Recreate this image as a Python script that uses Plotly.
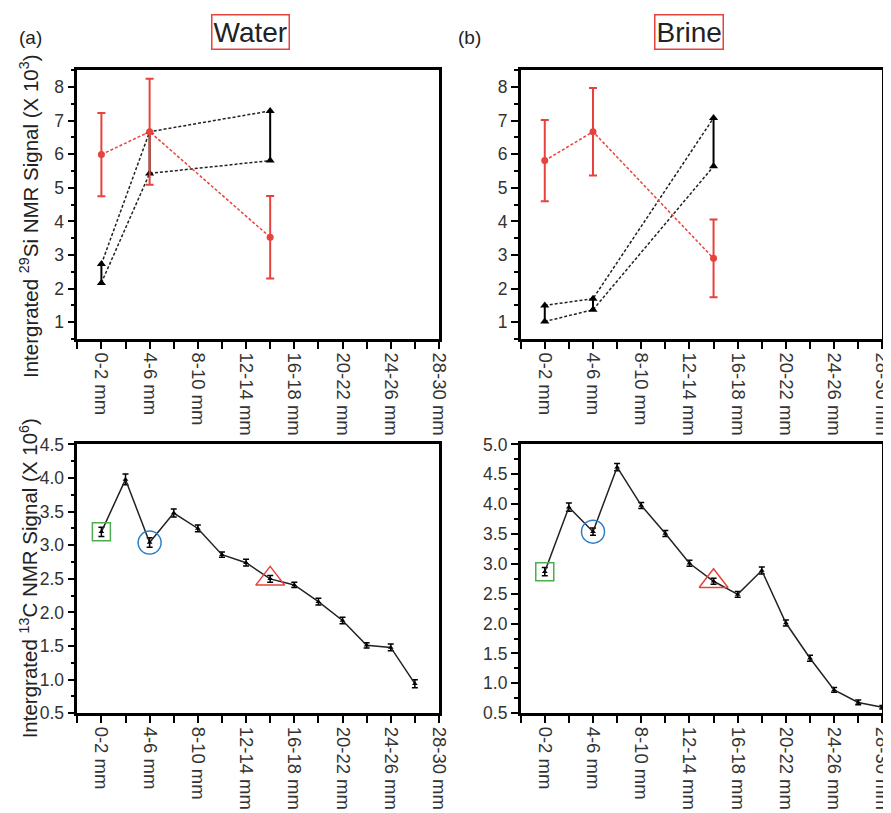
import plotly.graph_objects as go

W, H = 891, 813
# the browser shot maps figure pixels to picture pixels as  pic = S * fig + B
S, B = 0.98, 14.5

depth_labels = ['0-2 mm', '2-4 mm', '4-6 mm', '6-8 mm', '8-10 mm', '10-12 mm', '12-14 mm',
                '14-16 mm', '16-18 mm', '18-20 mm', '20-22 mm', '22-24 mm', '24-26 mm',
                '26-28 mm', '28-30 mm']

# 29Si panels (three sampled depths)
si_depths = ['0-2 mm', '4-6 mm', '14-16 mm']
water_si_red = [5.99, 6.67, 3.53]
water_si_red_err = [1.24, 1.58, 1.23]
water_si_hi = [2.73, 6.67, 7.29]
water_si_lo = [2.17, 5.43, 5.81]
brine_si_red = [5.81, 6.67, 2.90]
brine_si_red_err = [1.21, 1.30, 1.16]
brine_si_hi = [1.50, 1.70, 7.08]
brine_si_lo = [1.02, 1.37, 5.64]

# 13C panels
water_c_depths = depth_labels[:14]
water_c = [3.20, 3.98, 3.04, 3.48, 3.25, 2.86, 2.74, 2.50, 2.41, 2.16, 1.88, 1.51, 1.48, 0.94]
water_c_err = [0.07, 0.08, 0.07, 0.06, 0.05, 0.04, 0.05, 0.05, 0.04, 0.05, 0.05, 0.04, 0.05, 0.06]
brine_c_depths = depth_labels[:15]
brine_c = [2.87, 3.95, 3.54, 4.62, 3.98, 3.51, 3.01, 2.71, 2.49, 2.89, 2.01, 1.42, 0.89, 0.68, 0.60]
brine_c_err = [0.07, 0.07, 0.06, 0.06, 0.05, 0.05, 0.05, 0.05, 0.05, 0.06, 0.05, 0.05, 0.04, 0.04, 0.03]

# highlighted depths in the 13C panels
mark_depths = ['0-2 mm', '4-6 mm', '14-16 mm']
mark_symbols = ['square-open', 'circle-open', 'triangle-up-open']
mark_colors = ['#4cae4c', '#2f7dc4', '#e8423c']
mark_sizes = [18, 23, 25]

RED = '#e8423c'
FONT = 'Arial, Liberation Sans, sans-serif'


def px(x):
    return (x - B) / S / W


def py(y):
    return 1 - (y - B) / S / H


def idx(labels):
    return [depth_labels.index(l) for l in labels]


fig = go.Figure()

# ---- top panels (29Si)
for ax, red, err, hi, lo in [('', water_si_red, water_si_red_err, water_si_hi, water_si_lo),
                             ('2', brine_si_red, brine_si_red_err, brine_si_hi, brine_si_lo)]:
    xs = idx(si_depths)
    for k in range(len(xs)):
        fig.add_trace(go.Scatter(x=[xs[k], xs[k]], y=[hi[k], lo[k]], mode='lines',
                                 line=dict(color='black', width=2), showlegend=False,
                                 xaxis='x' + ax, yaxis='y' + ax))
    for ys in (hi, lo):
        fig.add_trace(go.Scatter(x=xs, y=ys, mode='lines+markers',
                                 line=dict(color='#222', width=1.5, dash='3px,2px'),
                                 marker=dict(symbol='triangle-up', size=8, color='black'),
                                 showlegend=False, xaxis='x' + ax, yaxis='y' + ax))
    fig.add_trace(go.Scatter(x=xs, y=red, mode='lines+markers',
                             line=dict(color=RED, width=1.5, dash='3px,2px'),
                             marker=dict(size=7, color=RED),
                             error_y=dict(type='data', array=err, color=RED, thickness=2, width=4),
                             showlegend=False, xaxis='x' + ax, yaxis='y' + ax))

# ---- bottom panels (13C)
for ax, depths, vals, err in [('3', water_c_depths, water_c, water_c_err),
                              ('4', brine_c_depths, brine_c, brine_c_err)]:
    xs = idx(depths)
    fig.add_trace(go.Scatter(x=xs, y=vals, mode='lines+markers',
                             line=dict(color='#222', width=1.5),
                             marker=dict(symbol='triangle-up', size=5, color='black'),
                             error_y=dict(type='data', array=err, color='black', thickness=1.5, width=3),
                             showlegend=False, xaxis='x' + ax, yaxis='y' + ax))
    for d, sym, col, sz in zip(mark_depths, mark_symbols, mark_colors, mark_sizes):
        i = depths.index(d)
        fig.add_trace(go.Scatter(x=[xs[i]], y=[vals[i]], mode='markers',
                                 marker=dict(symbol=sym, size=sz, color=col, line=dict(width=1.5, color=col)),
                                 showlegend=False, xaxis='x' + ax, yaxis='y' + ax))

tickvals = list(range(-1, 15))
ticktext = [' ' if (v % 2 or v < 0) else depth_labels[v] for v in tickvals]


def xaxis(dom, anchor):
    return dict(domain=dom, anchor=anchor, range=[-1, 14], tickvals=tickvals, ticktext=ticktext,
                tickangle=90, ticks='outside', ticklen=7, tickwidth=2, tickcolor='black',
                showline=True, linewidth=2.5, linecolor='black', mirror=True,
                showgrid=False, zeroline=False, tickfont=dict(size=18.5, color='#333'))


def yaxis(dom, anchor, rng, dtick, tick0, minor, fmt):
    return dict(domain=dom, anchor=anchor, range=rng, dtick=dtick, tick0=tick0, tickformat=fmt,
                ticks='outside', ticklen=7, tickwidth=2, tickcolor='black',
                minor=dict(ticks='outside', ticklen=4, tickwidth=2, tickcolor='black', dtick=minor, tick0=0.5),
                showline=True, linewidth=2.5, linecolor='black', mirror=True,
                showgrid=False, zeroline=False, tickfont=dict(size=17.5, color='#333'))


xl = [px(74), px(437)]
xr = [px(519), px(882)]
yt = [py(337), py(67)]
yb = [py(713), py(443)]

fig.update_layout(
    width=W, height=H,
    margin=dict(l=0, r=0, t=0, b=0),
    paper_bgcolor='white', plot_bgcolor='white',
    font=dict(family=FONT, color='#222'),
    xaxis=xaxis(xl, 'y'), yaxis=yaxis(yt, 'x', [0.5, 8.5], 1, 0, 0.5, 'd'),
    xaxis2=xaxis(xr, 'y2'), yaxis2=yaxis(yt, 'x2', [0.5, 8.5], 1, 0, 0.5, 'd'),
    xaxis3=xaxis(xl, 'y3'), yaxis3=yaxis(yb, 'x3', [0.5, 4.5], 0.5, 0.5, 0.25, '.1f'),
    xaxis4=xaxis(xr, 'y4'), yaxis4=yaxis(yb, 'x4', [0.5, 5.0], 0.5, 0.5, 0.25, '.1f'),
)

ann = [
    dict(text='Water', x=px(248), y=py(29), font=dict(size=28, color='#222'),
         bordercolor=RED, borderwidth=1.5, borderpad=1),
    dict(text='Brine', x=px(688), y=py(29), font=dict(size=28, color='#222'),
         bordercolor=RED, borderwidth=1.5, borderpad=1),
    dict(text='(a)', x=px(27), y=py(34), font=dict(size=19, color='#222')),
    dict(text='(b)', x=px(468), y=py(34), font=dict(size=19, color='#222')),
    dict(text='Intergrated <sup>29</sup>Si NMR Signal (X 10<sup>3</sup>)', x=px(25), y=py(213),
         textangle=-90, font=dict(size=20.5, color='#222')),
    dict(text='Intergrated <sup>13</sup>C NMR Signal (X 10<sup>6</sup>)', x=px(25), y=py(577),
         textangle=-90, font=dict(size=20.5, color='#222')),
]
for a in ann:
    a.update(xref='paper', yref='paper', showarrow=False, xanchor='center', yanchor='middle')
    fig.add_annotation(**a)

fig.write_html('out.html')
